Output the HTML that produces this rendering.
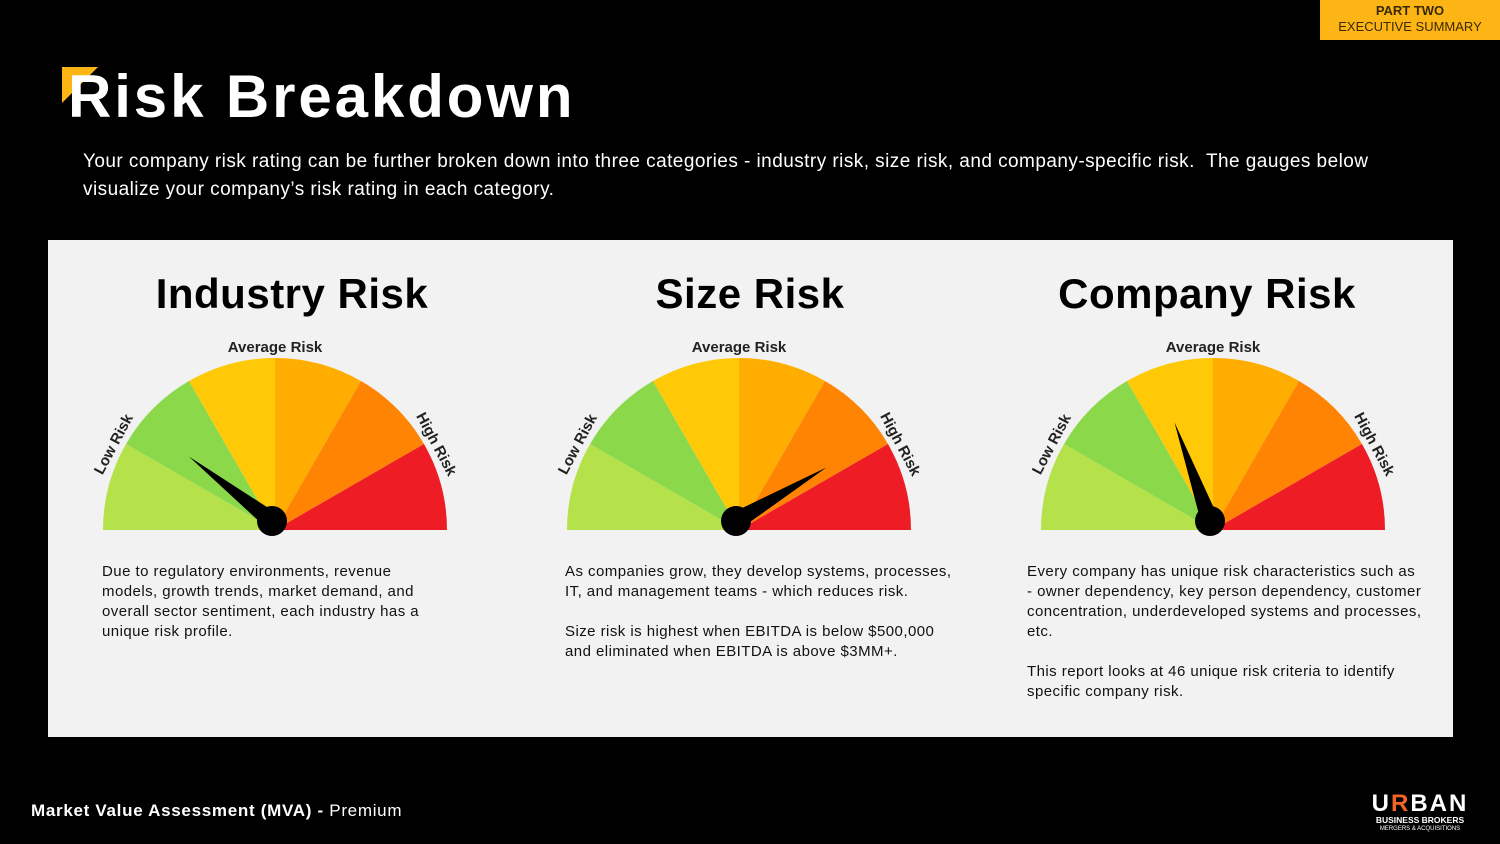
<!DOCTYPE html>
<html><head><meta charset="utf-8"><style>
body{margin:0;width:1500px;height:844px;background:#000;position:relative;overflow:hidden;font-family:"Liberation Sans",sans-serif;color:#fff}
.abs{position:absolute}
.tag{left:1320px;top:0;width:180px;height:40px;background:#fdb515;color:#3a2a00;text-align:center;font-size:13px;line-height:16px;padding-top:3px;box-sizing:border-box}
.title{left:68px;top:62px;font-size:60px;font-weight:bold;letter-spacing:2.9px}
.intro{left:83px;top:148px;width:1335px;font-size:19px;line-height:28px;letter-spacing:0.45px}
.panel{left:48px;top:240px;width:1405px;height:497px;background:#f2f2f2}
.h{font-size:42px;font-weight:bold;color:#000;text-align:center;width:460px;top:270px;letter-spacing:0.5px}
.desc{top:562px;font-size:15px;line-height:20px;color:#111;letter-spacing:0.45px}
.foot{left:31px;top:801px;font-size:17px;letter-spacing:0.7px}
</style></head><body>
<div class="abs tag"><b>PART TWO</b><br>EXECUTIVE SUMMARY</div>
<div class="abs" style="left:62px;top:67px;width:0;height:0;border-top:36px solid #fdb515;border-right:36px solid transparent"></div>
<div class="abs title">Risk Breakdown</div>
<div class="abs intro">Your company risk rating can be further broken down into three categories - industry risk, size risk, and company-specific risk.&nbsp; The gauges below visualize your company’s risk rating in each category.</div>
<div class="abs panel"></div>
<div class="abs h" style="left:62px">Industry Risk</div>
<div class="abs h" style="left:520px">Size Risk</div>
<div class="abs h" style="left:977px">Company Risk</div>
<svg class="abs" id="g" width="1500" height="844" style="left:0;top:0"></svg>
<div class="abs desc" style="left:102px;width:335px">Due to regulatory environments, revenue models, growth trends, market demand, and overall sector sentiment, each industry has a unique risk profile.</div>
<div class="abs desc" style="left:565px;width:392px">As companies grow, they develop systems, processes, IT, and management teams - which reduces risk.<br><br>Size risk is highest when EBITDA is below $500,000 and eliminated when EBITDA is above $3MM+.</div>
<div class="abs desc" style="left:1027px;width:396px">Every company has unique risk characteristics such as - owner dependency, key person dependency, customer concentration, underdeveloped systems and processes, etc.<br><br>This report looks at 46 unique risk criteria to identify specific company risk.</div>
<div class="abs foot"><b>Market Value Assessment (MVA) -</b> Premium</div>
<div class="abs" style="left:1364px;top:793px;width:112px;text-align:center">
<div style="font-size:24px;font-weight:bold;letter-spacing:2px;line-height:22px">U<span style="color:#f26522">R</span>BAN</div>
<div style="font-size:8.5px;font-weight:bold;line-height:10px">BUSINESS BROKERS</div>
<div style="font-size:6px;line-height:8px">MERGERS &amp; ACQUISITIONS</div></div>
<script>
const gaugeNames=['industry','size','company'];
const gaugeValues=[21,83,39]; // 0=low risk, 100=high risk
const segColors=['#b5e14b','#8bd94b','#ffc907','#ffad00','#ff8404','#ee1d25'];
const centers=[[275,530],[739,530],[1213,530]];
const R=172,NS='http://www.w3.org/2000/svg',svg=document.getElementById('g');
function pt(cx,cy,r,deg){const a=deg*Math.PI/180;return [cx+r*Math.cos(a),cy-r*Math.sin(a)];}
function ang(v){return 180-v/100*180;}
gaugeNames.forEach((n,i)=>{
 const [cx,cy]=centers[i];
 segColors.forEach((c,k)=>{
  const a0=180-k*30,a1=a0-30,p0=pt(cx,cy,R,a0),p1=pt(cx,cy,R,a1);
  const p=document.createElementNS(NS,'path');
  p.setAttribute('d',`M${cx},${cy}L${p0[0]},${p0[1]}A${R},${R} 0 0 1 ${p1[0]},${p1[1]}Z`);
  p.setAttribute('fill',c);
  
  
  svg.appendChild(p);
 });
 const labels=[['Low Risk',152],['Average Risk',90],['High Risk',28]];
 labels.forEach(([t,a])=>{
  const q=pt(cx,cy,R+6,a);
  const tx=document.createElementNS(NS,'text');
  tx.setAttribute('x',q[0]);tx.setAttribute('y',q[1]);
  tx.setAttribute('text-anchor','middle');tx.setAttribute('font-size','15');tx.setAttribute('font-weight','bold');tx.setAttribute('fill','#222');
  tx.setAttribute('font-family','Liberation Sans, sans-serif');
  tx.setAttribute('transform',`rotate(${90-a} ${q[0]} ${q[1]})`);
  tx.textContent=t;
  
  
  svg.appendChild(tx);
 });
 const a=ang(gaugeValues[i]),hx=cx-3,hy=cy-9;
 const tip=pt(hx,hy,105,a),l=pt(hx,hy,9,a+90),r=pt(hx,hy,9,a-90);
 const nd=document.createElementNS(NS,'path');
 nd.setAttribute('d',`M${l[0]},${l[1]}L${tip[0]},${tip[1]}L${r[0]},${r[1]}Z`);
 nd.setAttribute('fill','#000');
 
 
 svg.appendChild(nd);
 const hub=document.createElementNS(NS,'circle');
 hub.setAttribute('cx',hx);hub.setAttribute('cy',hy);hub.setAttribute('r',15);hub.setAttribute('fill','#000');
 
 
 svg.appendChild(hub);
});
</script>
</body></html>
